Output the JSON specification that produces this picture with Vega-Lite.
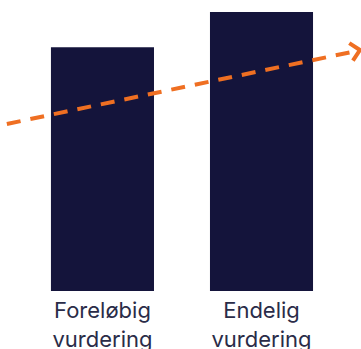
{
 "$schema": "https://vega.github.io/schema/vega-lite/v6.json",
 "width": 361, "height": 291,
 "autosize": {"type": "none"},
 "padding": {"left": 0, "top": 0, "right": 0, "bottom": 58},
 "background": "white",
 "config": {"view": {"stroke": null}},
 "layer": [
  {
   "data": {"values": [{"kategori": "Foreløbig vurdering", "vaerdi": 83.8}, {"kategori": "Endelig vurdering", "vaerdi": 95.9}]},
   "mark": {"type": "bar", "color": "#14143b"},
   "encoding": {
     "x": {"field": "kategori", "type": "nominal", "sort": null,
           "scale": {"paddingInner": 0.352, "paddingOuter": 0.311, "align": 0.515},
           "axis": {"title": null, "domain": false, "ticks": false, "labelAngle": 0,
                    "labelExpr": "split(datum.label, ' ')", "labelFontSize": 22, "labelFont": "Inter",
                    "labelColor": "#2a2c48", "labelLineHeight": 29, "labelPadding": 9}},
     "y": {"field": "vaerdi", "type": "quantitative", "scale": {"domain": [0, 100]}, "axis": null}
   }
  },
  {
   "data": {"values": [{"t": 1.9, "v": 57.4}, {"t": 99.2, "v": 82.6}]},
   "mark": {"type": "line", "color": "#ef6f22", "strokeWidth": 4, "strokeDash": [14, 10]},
   "encoding": {
     "x": {"field": "t", "type": "quantitative", "scale": {"domain": [0, 100]}, "axis": null},
     "y": {"field": "v", "type": "quantitative", "scale": {"domain": [0, 100]}, "axis": null}
   }
  },
  {
   "data": {"values": [{"t": 99.7, "v": 82.8}]},
   "mark": {"type": "point", "shape": "M-1,-1L0,0L-1,1", "filled": false, "stroke": "#ef6f22", "strokeWidth": 4, "size": 324, "angle": 348.3, "opacity": 1},
   "encoding": {
     "x": {"field": "t", "type": "quantitative", "scale": {"domain": [0, 100]}, "axis": null},
     "y": {"field": "v", "type": "quantitative", "scale": {"domain": [0, 100]}, "axis": null}
   }
  }
 ],
 "resolve": {"scale": {"x": "independent"}}
}
